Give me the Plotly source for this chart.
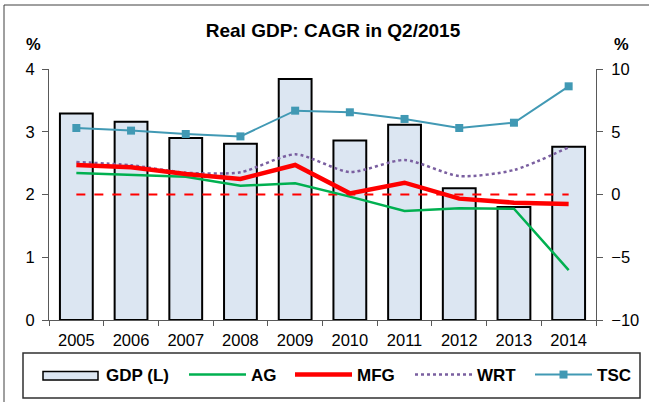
import plotly.graph_objects as go

# --- data -----------------------------------------------------------------
years = ["2005", "2006", "2007", "2008", "2009", "2010", "2011", "2012", "2013", "2014"]
gdp = [3.29, 3.16, 2.90, 2.81, 3.84, 2.86, 3.11, 2.10, 1.80, 2.76]      # left axis
ag = [1.71, 1.55, 1.42, 0.70, 0.89, -0.17, -1.31, -1.10, -1.13, -6.02]  # right axis
mfg = [2.35, 2.17, 1.63, 1.24, 2.35, 0.09, 0.94, -0.33, -0.65, -0.76]
wrt = [2.59, 2.33, 1.74, 1.77, 3.20, 1.79, 2.75, 1.47, 1.95, 3.76]
tsc = [5.30, 5.09, 4.82, 4.63, 6.68, 6.55, 6.02, 5.30, 5.72, 8.62]
reference_level = [2] * len(years)                                     # left axis

# --- page geometry (pixels) -----------------------------------------------
W, H = 649, 402
L, R, T, B = 49, 596, 69, 320
PW, PH = R - L, B - T


def px(x):
    return (x - L) / PW


def py(y):
    return (B - y) / PH


FONT = "Liberation Sans, Arial, sans-serif"
AXIS = "#595959"

fig = go.Figure()

fig.add_trace(go.Bar(
    x=years, y=gdp, name="GDP (L)", width=0.6,
    marker=dict(color="#dce6f2", line=dict(color="black", width=2)),
    showlegend=False, yaxis="y",
))
fig.add_trace(go.Scatter(
    x=years, y=reference_level, mode="lines", yaxis="y",
    line=dict(color="#ff0000", width=2, dash="dash"), showlegend=False,
))
fig.add_trace(go.Scatter(
    x=years, y=tsc, name="TSC", mode="lines+markers", yaxis="y2",
    line=dict(color="#4199b4", width=2),
    marker=dict(symbol="square", size=8, color="#4199b4"), legend="legend4",
))
fig.add_trace(go.Scatter(
    x=years, y=wrt, name="WRT", mode="lines", yaxis="y2",
    line=dict(color="#7a5fa0", width=2.5, dash="dot", shape="spline", smoothing=0.7),
    legend="legend3",
))
fig.add_trace(go.Scatter(
    x=years, y=ag, name="AG", mode="lines", yaxis="y2",
    line=dict(color="#00b050", width=2.5), legend="legend",
))
fig.add_trace(go.Scatter(
    x=years, y=mfg, name="MFG", mode="lines", yaxis="y2",
    line=dict(color="#ff0000", width=4.5), legend="legend2",
))

legend_font = dict(family=FONT, size=17, color="black", weight="bold")


def legend_at(x_left):
    return dict(
        x=px(x_left), xanchor="left", y=py(375), yanchor="middle",
        orientation="h", bgcolor="rgba(0,0,0,0)", borderwidth=0,
        font=legend_font, itemwidth=57,
    )


shapes = [
    # outer frame (top and left edges)
    dict(type="line", xref="paper", yref="paper", x0=px(4), x1=px(W + 5),
         y0=py(5), y1=py(5), line=dict(color="#404040", width=1)),
    dict(type="line", xref="paper", yref="paper", x0=px(4), x1=px(4),
         y0=py(5), y1=py(H + 5), line=dict(color="#404040", width=1)),
    # legend box
    dict(type="rect", xref="paper", yref="paper", x0=px(23), x1=px(640),
         y0=py(353), y1=py(398), line=dict(color="#303030", width=1.5),
         fillcolor="rgba(0,0,0,0)"),
    # legend key for the bars
    dict(type="rect", xref="paper", yref="paper", x0=px(43), x1=px(98),
         y0=py(371.5), y1=py(380), line=dict(color="black", width=1.5),
         fillcolor="#dce6f2"),
]

annotations = [
    dict(text="<b>GDP (L)</b>", xref="paper", yref="paper", x=px(104), y=py(375.5),
         xanchor="left", yanchor="middle", showarrow=False,
         font=dict(family=FONT, size=17, color="black")),
    dict(text="<b>%</b>", xref="paper", yref="paper", x=px(33), y=py(44),
         xanchor="center", yanchor="middle", showarrow=False,
         font=dict(family=FONT, size=16.5, color="black")),
    dict(text="<b>%</b>", xref="paper", yref="paper", x=px(621.5), y=py(43.5),
         xanchor="center", yanchor="middle", showarrow=False,
         font=dict(family=FONT, size=16.5, color="black")),
]

tick_font = dict(family=FONT, size=16.5, color="black")

fig.update_layout(
    width=W, height=H,
    margin=dict(l=L, r=W - R, t=T, b=H - B, autoexpand=False),
    paper_bgcolor="white", plot_bgcolor="white",
    font=dict(family=FONT, color="black"),
    title=dict(text="<b>Real GDP: CAGR in Q2/2015</b>", xref="container", yref="container",
               x=333 / W, xanchor="center", y=1 - 30 / H, yanchor="middle",
               font=dict(family=FONT, size=19, color="black")),
    xaxis=dict(type="category", range=[-0.5, 9.5], showline=True, linecolor=AXIS,
               linewidth=1, ticks="outside", tickson="boundaries", ticklen=5,
               tickcolor=AXIS, tickfont=tick_font, showgrid=False, zeroline=False,
               ticklabelstandoff=5),
    yaxis=dict(range=[0, 4], dtick=1, showline=True, linecolor=AXIS, linewidth=1,
               ticks="outside", ticklen=6, tickcolor=AXIS, tickfont=tick_font,
               showgrid=False, zeroline=False, ticklabelstandoff=4),
    yaxis2=dict(range=[-10, 10], dtick=5, overlaying="y", side="right", showline=True,
                linecolor=AXIS, linewidth=1, ticks="outside", ticklen=6, tickcolor=AXIS,
                tickfont=tick_font, showgrid=False, zeroline=False, ticklabelstandoff=5),
    legend=legend_at(184),
    legend2=legend_at(290),
    legend3=legend_at(410),
    legend4=legend_at(530),
    shapes=shapes,
    annotations=annotations,
    bargap=0.4,
)

fig.write_html("out.html")
